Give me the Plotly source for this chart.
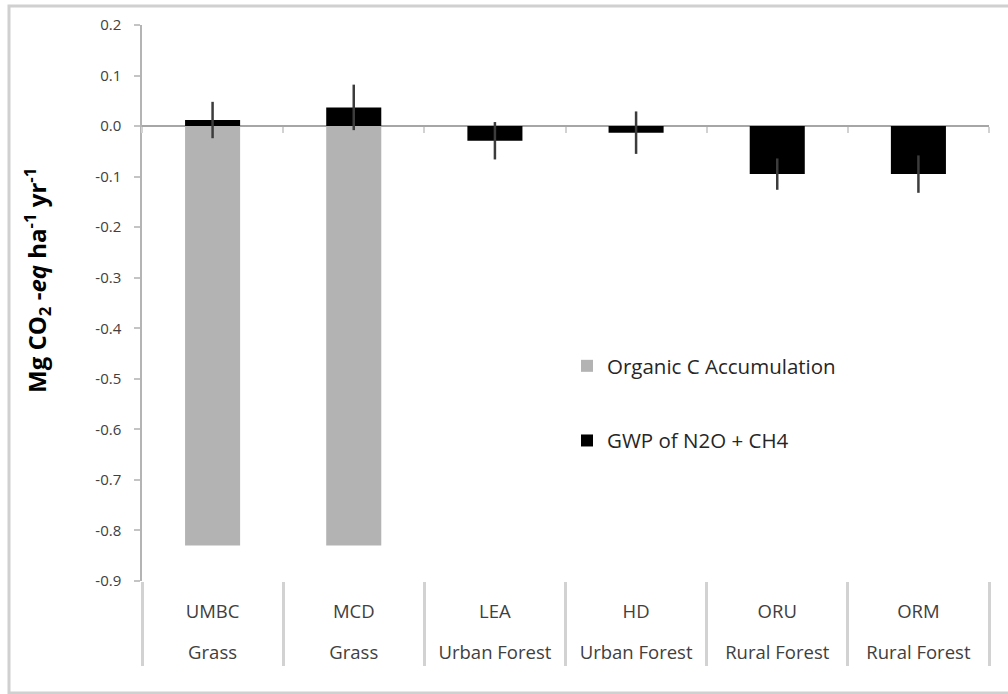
import plotly.graph_objects as go

# Sites, land-use types and fluxes (Mg CO2-eq ha-1 yr-1)
sites = ["UMBC", "MCD", "LEA", "HD", "ORU", "ORM"]
land_use = ["Grass", "Grass", "Urban Forest", "Urban Forest", "Rural Forest", "Rural Forest"]
organic_c = [-0.83, -0.83, None, None, None, None]
gwp = [0.012, 0.037, -0.029, -0.013, -0.095, -0.095]
gwp_err = [0.036, 0.045, 0.037, 0.042, 0.031, 0.037]

y_ticks = [0.2, 0.1, 0.0, -0.1, -0.2, -0.3, -0.4, -0.5, -0.6, -0.7, -0.8, -0.9]
y_range = [-0.9, 0.2]

W, H = 1008, 694
ml, mr, mt, mb = 142, 19, 25, 113
zero_pos = (0 - y_range[0]) / (y_range[1] - y_range[0])

font_family = "Open Sans, Lato, sans-serif"
axis_grey = "#b4b4b4"
divider_grey = "#d2d2d2"

fig = go.Figure()

fig.add_trace(go.Bar(
    x=sites, y=organic_c, name="Organic C Accumulation",
    marker=dict(color="#b3b3b3", line=dict(width=0)),
    width=0.39, legendgroup="a", xaxis="x", yaxis="y",
))
fig.add_trace(go.Bar(
    x=sites, y=gwp, name="GWP of N2O + CH4",
    marker=dict(color="#000000", line=dict(width=0)),
    width=0.39, legendgroup="b", xaxis="x", yaxis="y",
    error_y=dict(type="data", array=gwp_err, visible=True,
                 color="#3c3c3c", thickness=2.5, width=0),
))

# carriers for the auxiliary category axes (nothing visible)
for ax in ["x2", "x3", "x4"]:
    fig.add_trace(go.Scatter(
        x=sites, y=gwp, mode="markers", marker=dict(opacity=0, size=1),
        hoverinfo="skip", showlegend=False, xaxis=ax, yaxis="y",
    ))

common_x = dict(type="category", categoryorder="array", categoryarray=sites,
                range=[-0.5, len(sites) - 0.5], showgrid=False, zeroline=False,
                fixedrange=True)

fig.update_layout(
    width=W, height=H,
    margin=dict(l=ml, r=mr, t=mt, b=mb),
    paper_bgcolor="white", plot_bgcolor="white",
    barmode="overlay",
    font=dict(family=font_family, color="#404040"),
    showlegend=True,
    legend=dict(
        x=(567 - ml) / (W - ml - mr), y=(H - mb - 346) / (H - mt - mb),
        xanchor="left", yanchor="top",
        bgcolor="rgba(0,0,0,0)", borderwidth=0,
        font=dict(size=20.5, color="#262626", family=font_family),
        traceorder="grouped", tracegroupgap=45,
    ),
    yaxis=dict(
        range=y_range, tickmode="array", tickvals=y_ticks,
        ticktext=[f"{v:.1f}" for v in y_ticks],
        ticks="outside", ticklen=6, tickcolor="#c4c4c4", tickwidth=1.5,
        showline=True, linecolor=axis_grey, linewidth=1.5,
        zeroline=True, zerolinecolor="#a6a6a6", zerolinewidth=1.5,
        showgrid=False, tickfont=dict(size=15, color="#404040"),
        ticklabelstandoff=10, fixedrange=True,
    ),
    xaxis=dict(
        **common_x, showline=False, ticks="",
        tickfont=dict(size=18.5, color="#404040"), ticklabelstandoff=17,
    ),
    xaxis2=dict(
        **common_x, overlaying="x", anchor="free", position=zero_pos,
        side="bottom", showline=False, ticks="outside", ticklen=6,
        tickson="boundaries", tickcolor=divider_grey, tickwidth=2,
        showticklabels=False,
    ),
    xaxis3=dict(
        **common_x, overlaying="x", anchor="free", position=0,
        side="bottom", showline=False, ticks="outside", ticklen=84,
        tickson="boundaries", tickcolor=divider_grey, tickwidth=2.5,
        showticklabels=False,
    ),
    xaxis4=dict(
        **common_x, overlaying="x", anchor="free", position=0,
        side="bottom", showline=False, ticks="",
        tickmode="array", tickvals=sites, ticktext=land_use,
        tickfont=dict(size=18.5, color="#404040"), ticklabelstandoff=58,
    ),
)

# vertical axis title
fig.add_annotation(
    text="<b>Mg CO<sub>2</sub> -<i>eq</i> ha<sup>-1</sup> yr<sup>-1</sup></b>",
    textangle=-90, showarrow=False,
    xref="paper", yref="paper",
    x=(37 - ml) / (W - ml - mr), y=(H - mb - 281) / (H - mt - mb),
    xanchor="center", yanchor="middle",
    font=dict(size=24, color="#000000", family=font_family),
)

# chart frame
fig.add_shape(
    type="rect", xref="paper", yref="paper", layer="below",
    x0=(9 - ml) / (W - ml - mr), x1=(W + 10 - ml) / (W - ml - mr),
    y0=(H - mb - 693) / (H - mt - mb), y1=(H - mb - 6) / (H - mt - mb),
    line=dict(color="#d0d0d0", width=3), fillcolor="rgba(0,0,0,0)",
)

fig.write_html("out.html")
